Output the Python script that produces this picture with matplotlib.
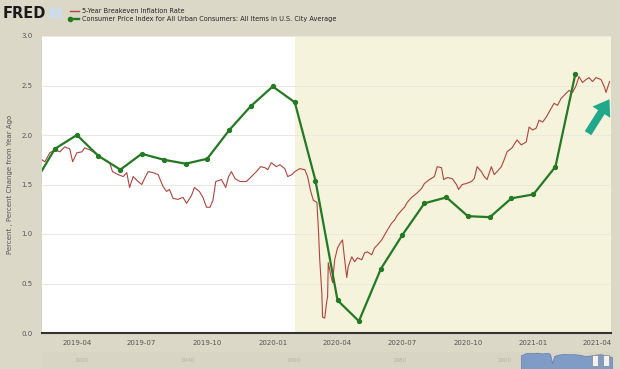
import numpy as np
import pandas as pd
import matplotlib
matplotlib.use("Agg")
import matplotlib.pyplot as plt
import matplotlib.dates as mdates
from matplotlib.patches import Rectangle
from matplotlib.lines import Line2D

# 5-Year Breakeven Inflation Rate (daily), days counted from 2019-04-01
be_base = pd.Timestamp("2019-04-01")
be_days = [-49, -45, -38, -31, -24, -17, -10, -6, 0, 7, 11, 18, 25, 32, 39, 46, 50, 58, 65, 70,
           74, 79, 86, 91, 95, 100, 107, 114, 121, 126, 130, 135, 142, 149, 154, 161, 165, 172, 177, 182,
           187, 191, 195, 203, 209, 213, 217, 222, 229, 238, 245, 252, 258, 264, 268, 273, 280, 285, 292, 296,
           302, 306, 313, 320, 324, 328, 332, 337, 339, 341, 344, 345, 348, 351, 352, 353, 356, 359, 362, 366,
           370, 373, 376, 379, 381, 386, 390, 394, 400, 404, 408, 414, 418, 422, 428, 432, 436, 442, 446, 450,
           456, 460, 464, 470, 477, 484, 488, 495, 502, 506, 512, 515, 520, 527, 533, 536, 541, 547, 554, 558,
           562, 568, 572, 576, 582, 586, 590, 596, 600, 604, 611, 618, 624, 631, 635, 640, 645, 649, 654, 659,
           666, 670, 675, 680, 687, 691, 696, 701, 705, 710, 715, 719, 724, 729, 736, 741, 743, 748]
be_vals = [1.75, 1.73, 1.82, 1.85, 1.83, 1.88, 1.86, 1.73, 1.82, 1.83, 1.87, 1.85, 1.82, 1.78, 1.75, 1.72, 1.63, 1.60, 1.58, 1.62,
           1.47, 1.58, 1.53, 1.50, 1.56, 1.63, 1.62, 1.60, 1.48, 1.43, 1.45, 1.36, 1.35, 1.37, 1.31, 1.39, 1.47, 1.43, 1.37, 1.27,
           1.27, 1.34, 1.53, 1.55, 1.47, 1.58, 1.63, 1.56, 1.53, 1.53, 1.58, 1.63, 1.68, 1.67, 1.65, 1.72, 1.68, 1.70, 1.66, 1.58,
           1.60, 1.63, 1.66, 1.65, 1.58, 1.44, 1.34, 1.32, 1.07, 0.74, 0.40, 0.16, 0.15, 0.33, 0.36, 0.71, 0.60, 0.51, 0.74, 0.86,
           0.91, 0.94, 0.74, 0.56, 0.67, 0.77, 0.72, 0.76, 0.74, 0.81, 0.82, 0.79, 0.86, 0.89, 0.94, 0.99, 1.04, 1.11, 1.14, 1.19,
           1.24, 1.27, 1.32, 1.37, 1.41, 1.46, 1.51, 1.55, 1.58, 1.68, 1.67, 1.55, 1.57, 1.56, 1.50, 1.45, 1.50, 1.51, 1.53, 1.56,
           1.68, 1.63, 1.58, 1.55, 1.68, 1.60, 1.63, 1.68, 1.75, 1.83, 1.87, 1.95, 1.90, 1.93, 2.08, 2.05, 2.07, 2.15, 2.13, 2.18,
           2.27, 2.32, 2.30, 2.37, 2.42, 2.45, 2.43, 2.50, 2.59, 2.53, 2.56, 2.58, 2.54, 2.58, 2.56, 2.48, 2.43, 2.54]

# CPI, percent change from year ago (monthly)
cpi_months = pd.date_range("2019-02-01", "2021-03-01", freq="MS")
cpi_vals = [1.52, 1.86, 2.00, 1.79, 1.65, 1.81, 1.75, 1.71, 1.76, 2.05, 2.29, 2.49,
            2.33, 1.54, 0.33, 0.12, 0.65, 0.99, 1.31, 1.37, 1.18, 1.17, 1.36,
            1.40, 1.68, 2.62]

# navigator strip at the bottom (long history, rough)
nav_years = [2003, 2004, 2005, 2006, 2007, 2008, 2008.5, 2008.9, 2009.3, 2010, 2011, 2012,
             2013, 2014, 2015, 2016, 2017, 2018, 2019, 2020.2]
nav_vals = [1.6, 2.6, 2.5, 2.7, 2.4, 2.7, 2.2, -1.5, 1.4, 1.9, 2.2, 2.1,
            2.1, 1.9, 1.4, 1.5, 1.9, 2.1, 1.7, 0.9]
nav_ticks = [1920, 1940, 1960, 1980, 2000]

x_start = pd.Timestamp("2019-02-11")
x_end = pd.Timestamp("2021-04-20")
shade_start = pd.Timestamp("2020-02-01")

be_dates = be_base + pd.to_timedelta(be_days, unit="D")

bg = "#dbd8c8"
red = "#b0443e"
green = "#237a23"

fig = plt.figure(figsize=(6.2, 3.69), dpi=100, facecolor=bg)
ax = fig.add_axes([42 / 620, 36 / 369, 569 / 620, 297 / 369])
ax.set_facecolor("white")

ax.axvspan(shade_start, x_end, color="#f5f3dc", zorder=0, lw=0)
for v in np.arange(0.5, 3.01, 0.5):
    ax.axhline(v, color="#e9e9e3", lw=0.7, zorder=1)

ax.plot(be_dates, be_vals, color=red, lw=0.8, zorder=3)
ax.plot(cpi_months, cpi_vals, color=green, lw=1.6, marker="o", ms=2.8, zorder=4)

ax.set_xlim(x_start, x_end)
ax.set_ylim(0, 3.0)
ax.set_yticks(np.arange(0, 3.01, 0.5))
ax.yaxis.set_major_formatter(matplotlib.ticker.FormatStrFormatter("%.1f"))
ax.xaxis.set_major_locator(mdates.MonthLocator(bymonth=[1, 4, 7, 10]))
ax.xaxis.set_major_formatter(mdates.DateFormatter("%Y-%m"))
ax.tick_params(axis="y", length=0, pad=7, labelsize=5, labelcolor="#555555")
ax.tick_params(axis="x", length=0, pad=5, labelsize=5, labelcolor="#555555")
for s in ["top", "right", "left"]:
    ax.spines[s].set_visible(False)
ax.spines["bottom"].set_color("#333333")
ax.spines["bottom"].set_linewidth(1.5)
ax.set_ylabel("Percent , Percent Change from Year Ago", fontsize=5, color="#555555", labelpad=6)

# teal arrow pointing at the latest value
ax.annotate("", xy=(1.0, 0.795), xytext=(0.957, 0.665), xycoords="axes fraction",
            arrowprops=dict(arrowstyle="simple,head_length=1.1,head_width=1.5,tail_width=0.55",
                            color="#1fa88a", lw=0))

# header: logo and legend
fig.text(3 / 620, 1 - 13 / 369, "FRED", fontsize=10.5, fontweight="bold", color="#1a1a1a",
         va="center", ha="left")
fig.patches.append(Rectangle((49 / 620, 1 - 18 / 369), 13 / 620, 10 / 369, transform=fig.transFigure,
                             facecolor="#cfdbe8", edgecolor="none"))
fig.lines.append(Line2D([70 / 620, 79 / 620], [1 - 11 / 369, 1 - 11 / 369], transform=fig.transFigure,
                        color=red, lw=1))
fig.lines.append(Line2D([70 / 620, 79 / 620], [1 - 19 / 369, 1 - 19 / 369], transform=fig.transFigure,
                        color=green, lw=1.7, marker="o", ms=3, markevery=[0]))
fig.text(82 / 620, 1 - 11 / 369, "5-Year Breakeven Inflation Rate", fontsize=4.7, color="#222222", va="center")
fig.text(82 / 620, 1 - 19 / 369, "Consumer Price Index for All Urban Consumers: All Items in U.S. City Average",
         fontsize=4.7, color="#222222", va="center")

# navigator
nav = fig.add_axes([42 / 620, 0, 570 / 620, 17 / 369])
nav.set_facecolor("#d8d5c5")
nav.fill_between(nav_years, nav_vals, -4, color="#7f9cc6", lw=0.5, edgecolor="#5f7fb0")
nav.set_xlim(1912.6, 2020.2)
nav.set_ylim(-4, 3.0)
nav.set_yticks([])
nav.set_xticks([])
for s in nav.spines.values():
    s.set_visible(False)
for yr in nav_ticks:
    nav.text(yr, -0.5, str(yr), fontsize=4, color="#b7b3a4", ha="center", va="center")
for hx in [0.965, 0.985]:
    nav.add_patch(Rectangle((hx, 0.2), 0.01, 0.6, transform=nav.transAxes,
                            facecolor="#f2f2f2", edgecolor="#888888", lw=0.5, zorder=5))

fig.savefig("out.png", dpi=100, facecolor=bg)
